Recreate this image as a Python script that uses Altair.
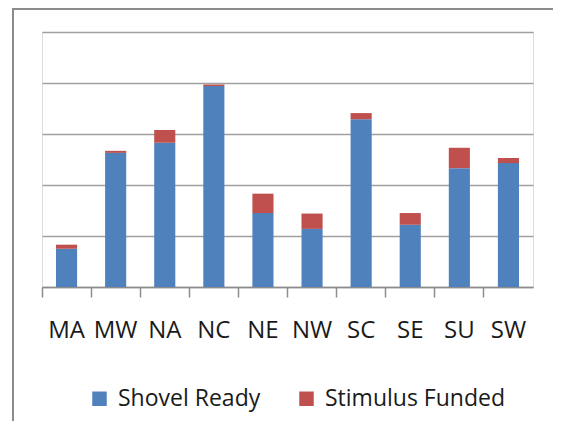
import altair as alt
import pandas as pd

categories = ["MA", "MW", "NA", "NC", "NE", "NW", "SC", "SE", "SU", "SW"]
shovel_ready = [75, 263, 283, 394, 145, 114, 329, 122, 233, 243]
stimulus_funded = [8, 4, 25, 3, 38, 30, 12, 23, 40, 10]
series = ["Shovel Ready", "Stimulus Funded"]
colors = ["#4F81BD", "#C0504D"]
grid_values = [0, 100, 200, 300, 400, 500]

rows = []
for c, a, b in zip(categories, shovel_ready, stimulus_funded):
    rows.append({"cat": c, "series": series[0], "value": a, "ord": 0})
    rows.append({"cat": c, "series": series[1], "value": b, "ord": 1})
df = pd.DataFrame(rows)

W, H = 491, 255
FONT = "Open Sans"

xenc = alt.X(
    "cat:N",
    sort=categories,
    scale=alt.Scale(paddingInner=0, paddingOuter=0),
    axis=alt.Axis(
        title=None,
        labelAngle=0,
        labelFont=FONT,
        labelFontSize=24,
        labelColor="#1a1a1a",
        labelPadding=21,
        bandPosition=0,
        ticks=True,
        tickSize=10,
        tickColor="#8c8c8c",
        tickWidth=1.5,
        domainColor="#8c8c8c",
        domainWidth=1.5,
        grid=False,
    ),
)

yscale = alt.Scale(domain=[0, 500], nice=False)

bars = alt.Chart(df).mark_bar(width=alt.RelativeBandSize(0.43)).encode(
    x=xenc,
    y=alt.Y(
        "sum(value):Q",
        scale=yscale,
        axis=alt.Axis(
            title=None,
            labels=False,
            ticks=False,
            domain=False,
            values=grid_values,
            grid=True,
            gridColor="#a0a0a0",
            gridWidth=1.5,
        ),
    ),
    color=alt.Color(
        "series:N",
        scale=alt.Scale(domain=series, range=colors),
        legend=alt.Legend(
            title=None,
            orient="none",
            legendX=46,
            legendY=355,
            direction="horizontal",
            symbolType="square",
            symbolSize=210,
            symbolStrokeWidth=0,
            labelFont=FONT,
            labelFontSize=23,
            labelColor="#1a1a1a",
            labelOffset=7,
            columnPadding=34,
            labelLimit=300,
        ),
    ),
    order=alt.Order("ord:Q"),
)

# frame: only its top and left edges fall inside the canvas
frame = pd.DataFrame([{"k": 0}])
border = alt.Chart(frame).mark_rect(
    fill="transparent", stroke="#8c8c8c", strokeWidth=2
).encode(
    x=alt.value(-29), x2=alt.value(W + 60), y=alt.value(-23), y2=alt.value(H + 200)
)

chart = alt.layer(border, bars).properties(
    width=W,
    height=H,
    autosize=alt.AutoSizeParams(type="none"),
    padding={"left": 34, "top": 24, "right": 20, "bottom": 134},
).configure_view(strokeWidth=0).configure(background="white")

chart.save("out.html", embed_options={"renderer": "svg", "actions": False})
